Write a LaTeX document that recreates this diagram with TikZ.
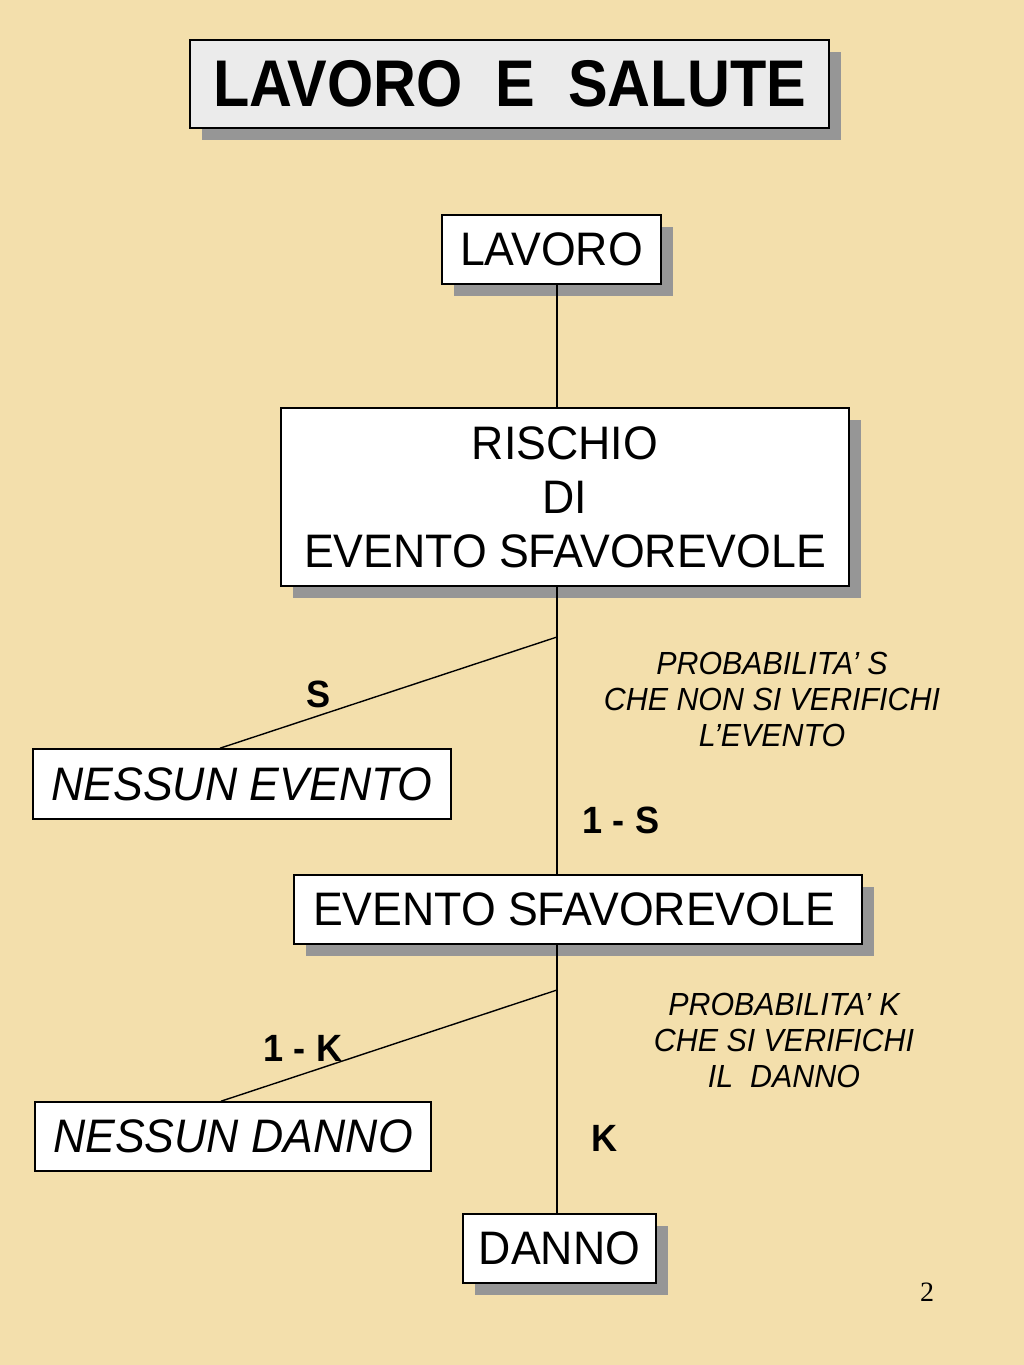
\documentclass[tikz,border=0pt]{standalone}
\usepackage{fontspec}
\setmainfont{Liberation Serif}
\newfontfamily\hv[FakeStretch=0.95]{Liberation Sans}
\newfontfamily\hvt[FakeStretch=0.9]{Liberation Sans}
\usetikzlibrary{shadows,calc}
\definecolor{bg}{RGB}{243,223,172}
\definecolor{shade}{RGB}{150,150,150}
\definecolor{titlefill}{RGB}{235,235,235}
\begin{document}
\begin{tikzpicture}[x=1pt,y=-1pt,
 box/.style={draw=black, line width=1.6pt, fill=white, rectangle, inner sep=0pt, align=center, font=\hv\fontsize{47}{54}\selectfont},
 shadowed/.style={drop shadow={shadow xshift=12pt, shadow yshift=-12pt, fill=shade, opacity=1}},
 prob/.style={font=\hv\itshape\fontsize{32}{36}\selectfont, align=center, inner sep=0pt},
 lbl/.style={font=\hv\bfseries\fontsize{38}{40}\selectfont, inner sep=0pt},
 link/.style={line width=1.4pt}]
\fill[bg] (0,0) rectangle (1024,1365);
\useasboundingbox (0,0) rectangle (1024,1365);
% boxes
\node[box, shadowed, fill=titlefill, minimum width=639pt, minimum height=88pt, font=\hvt\bfseries\fontsize{66}{66}\selectfont] (title) at (509.5,84) {LAVORO\ \ E\ \ SALUTE};
\node[box, shadowed, minimum width=219pt, minimum height=69pt] (lavoro) at (551.5,249.5) {LAVORO};
\node[box, shadowed, minimum width=568pt, minimum height=178pt] (rischio) at (565,497) {RISCHIO\\DI\\EVENTO SFAVOREVOLE};
\node[box, minimum width=418pt, minimum height=70pt, font=\hv\itshape\fontsize{47}{54}\selectfont] (nessunev) at (242,784) {NESSUN EVENTO};
\node[box, shadowed, minimum width=568pt, minimum height=69pt] (evento) at (578,909.5) {EVENTO SFAVOREVOLE\hspace{8pt}};
\node[box, minimum width=396pt, minimum height=69pt, font=\hv\itshape\fontsize{47}{54}\selectfont] (nessunda) at (233,1136.5) {NESSUN DANNO};
\node[box, shadowed, minimum width=193pt, minimum height=69pt] (danno) at (559.5,1248.5) {DANNO};
% branch points
\coordinate (b1) at (557,637);
\coordinate (b2) at (557,990);
% connectors
\draw[link] (lavoro.south -| b1) -- (rischio.north -| b1);
\draw[link] (rischio.south -| b1) -- (evento.north -| b1);
\draw[link] (evento.south -| b2) -- (danno.north -| b2);
\draw[link] (b1) -- ([xshift=-22pt]nessunev.north);
\draw[link] (b2) -- ([xshift=-12pt]nessunda.north);
% labels
\node[lbl] (ls) at (319,694) {S};
\node[lbl] (l1s) at (621,820) {1 - S};
\node[lbl] (l1k) at (303,1048) {1 - K};
\node[lbl] (lk) at (605,1138) {K};
\node[prob] (p1) at (772,699) {PROBABILITA’ S\\CHE NON SI VERIFICHI\\L’EVENTO};
\node[prob] (p2) at (784,1040) {PROBABILITA’ K\\CHE SI VERIFICHI\\IL\ \ DANNO};
\node[font=\fontsize{28}{28}\selectfont, inner sep=0pt] (pg) at (927,1292) {2};
\end{tikzpicture}
\end{document}
